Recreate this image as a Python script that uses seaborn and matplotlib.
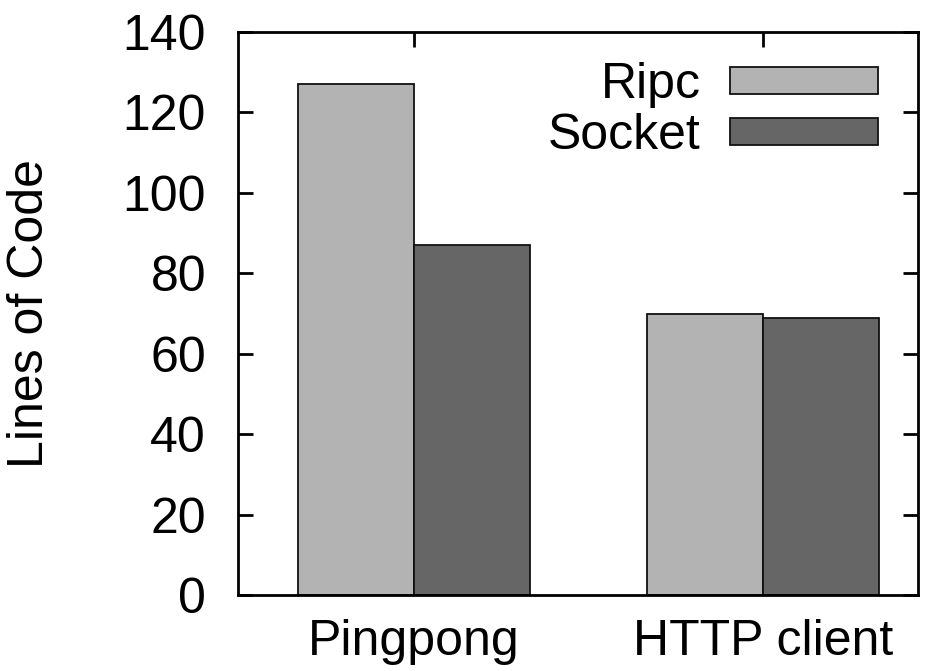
import matplotlib
matplotlib.use("Agg")
import matplotlib.pyplot as plt
import seaborn as sns
import pandas as pd

categories = ["Pingpong", "HTTP client"]
series = ["Ripc", "Socket"]
ripc_values = [127, 70]
socket_values = [87, 69]
yticks = [0, 20, 40, 60, 80, 100, 120, 140]

df = pd.DataFrame({
    "app": categories * 2,
    "impl": [series[0]] * 2 + [series[1]] * 2,
    "loc": ripc_values + socket_values,
})

sns.set_theme(style="white")
plt.rcParams["font.family"] = ["Liberation Sans", "DejaVu Sans"]
plt.rcParams["text.color"] = "black"
plt.rcParams["axes.labelcolor"] = "black"
plt.rcParams["xtick.color"] = "black"
plt.rcParams["ytick.color"] = "black"
FS = 36

fig = plt.figure(figsize=(9.29, 6.71), dpi=100)
ax = fig.add_axes([238/929, 1-595/671, (918-238)/929, (595-32)/671])

sns.barplot(data=df, x="app", y="loc", hue="impl", order=categories,
            hue_order=series, palette=["#b3b3b3", "#666666"],
            width=0.665, edgecolor="#111111", linewidth=1.3,
            saturation=1, ax=ax, errorbar=None)

ax.set_xlim(-0.504, 1.444)
ax.set_ylim(0, 140)
ax.set_yticks(yticks)
ax.set_yticklabels([str(v) for v in yticks], fontsize=FS, color="black")
ax.set_xticks(range(len(categories)))
ax.set_xticklabels(categories, fontsize=FS, color="black")
ax.set_xlabel("")
ax.set_ylabel("Lines of Code", fontsize=FS, labelpad=50, color="black")

for s in ax.spines.values():
    s.set_visible(True)
    s.set_color("black")
    s.set_linewidth(2.0)

ax.tick_params(axis="both", direction="in", length=11, width=2.0, color="black",
               top=True, right=True, left=True, bottom=True,
               labeltop=False, labelright=False)
ax.tick_params(axis="y", pad=23)
ax.tick_params(axis="x", pad=17)

leg = ax.legend(loc="upper right", bbox_to_anchor=(1 - 40/680, 1 - 30/563),
                frameon=False, fontsize=FS, markerfirst=False,
                handlelength=2.95, handleheight=0.46, labelspacing=0.1,
                handletextpad=0.6, borderaxespad=0, borderpad=0)
for t in leg.get_texts():
    t.set_color("black")

fig.savefig("out.png", dpi=100)
